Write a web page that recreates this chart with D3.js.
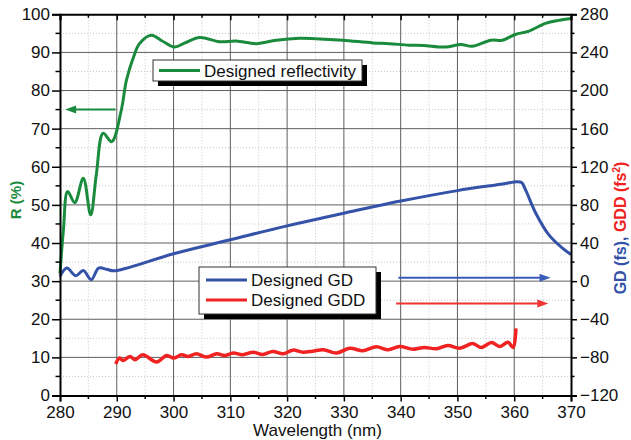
<!DOCTYPE html>
<html>
<head>
<meta charset="utf-8">
<script src="https://cdn.jsdelivr.net/npm/d3@7"></script>
<style>
  html, body { margin: 0; padding: 0; background: #fff; }
  svg { display: block; font-family: 'Liberation Sans', Arial, sans-serif; }
</style>
</head>
<body>
<div id="chart"></div>
<script>
// Reflectivity (left axis, %)
const reflWl = [280, 280.6, 281.35, 282.6, 284.1, 285.4, 286.4, 287.6, 289.1, 290.8, 291.7, 293, 294, 296.1, 298, 300.2, 302, 304.6, 308.1, 311, 314.6, 318.1, 322.2, 325, 329.8, 335.1, 338, 341.5, 344, 347.9, 350.6, 352.6, 355.9, 357.9, 360.2, 362.6, 365.5, 367.8, 370]
const reflR = [32, 43.4, 53.5, 50.6, 57, 47.4, 58, 68.8, 66.6, 74.9, 82.7, 89, 92.3, 94.5, 93, 91.4, 92.5, 93.9, 92.8, 93, 92.3, 93.2, 93.7, 93.6, 93.2, 92.5, 92.3, 91.9, 91.8, 91.4, 92.1, 91.6, 93.2, 93.2, 94.7, 95.6, 97.6, 98.4, 98.9]

// Group delay (right axis, fs)
const gdWl = [280, 281.2, 282.8, 284.1, 285.5, 286.8, 288.2, 289.4, 291.5, 300, 310, 320, 330, 340, 350, 358, 360.5, 361.3, 362, 363.8, 366.1, 368.5, 370]
const gdVal = [5, 13.7, 5.6, 11.2, 1.5, 13.7, 12.5, 10.8, 13.2, 28.7, 43.4, 58, 71.3, 84, 95, 102, 104.4, 103.5, 95.7, 71.3, 48.6, 34.7, 28]

// Group delay dispersion (right axis, fs^2)
const gddWl = [289.8, 290.5, 291.1, 292.3, 293.2, 294.6, 297, 298.8, 300, 301.4, 302.6, 304, 305.8, 307.6, 309, 310.5, 312.2, 314, 315.7, 317.5, 319.3, 321, 322.8, 324.5, 326.4, 328.7, 331, 333.4, 335.7, 337.8, 339.8, 342.2, 344.2, 346.3, 348.3, 350.4, 352.7, 354.2, 356, 357.5, 358.9, 359.8, 360.3]
const gddVal = [-86.9, -80.7, -83.4, -79, -82.4, -77.2, -84.8, -78, -80.7, -77.2, -79, -76.2, -79.7, -76.2, -78, -75.5, -77.2, -74.5, -76.9, -73.8, -76.2, -72.4, -74.5, -73.5, -72, -75.5, -70.4, -73, -68.9, -72, -68.6, -71.4, -69.6, -71, -67.6, -70.4, -65.5, -69.6, -64.5, -68.6, -64.1, -69.6, -49.6]

// Axis ticks
const xTicks = [280, 290, 300, 310, 320, 330, 340, 350, 360, 370]
const leftTicks = [0, 10, 20, 30, 40, 50, 60, 70, 80, 90, 100]
const rightTicks = [-120, -80, -40, 0, 40, 80, 120, 160, 200, 240, 280]

const W = 631
const H = 440
const plot = { left: 60, right: 571, top: 14.3, bottom: 395.5 }

const colGreen = '#1a8b3d'
const colBlue = '#3352a8'
const colRed = '#f02222'

const x = d3.scaleLinear().domain([280, 370]).range([plot.left, plot.right])
const yL = d3.scaleLinear().domain([0, 100]).range([plot.bottom, plot.top])
const yR = d3.scaleLinear().domain([-120, 280]).range([plot.bottom, plot.top])

const svg = d3.select('#chart')
  .append('svg')
  .attr('width', W)
  .attr('height', H)

// Grid: dotted minor lines, then solid major lines
const grid = svg.append('g')
const minorX = d3.range(285, 370, 10)
const minorY = d3.range(5, 100, 10)
grid.selectAll('.gx-minor').data(minorX).join('line')
  .attr('x1', d => x(d)).attr('x2', d => x(d))
  .attr('y1', plot.top).attr('y2', plot.bottom)
  .attr('stroke', '#c8c8c8').attr('stroke-dasharray', '1,2')
grid.selectAll('.gy-minor').data(minorY).join('line')
  .attr('x1', plot.left).attr('x2', plot.right)
  .attr('y1', d => yL(d)).attr('y2', d => yL(d))
  .attr('stroke', '#c8c8c8').attr('stroke-dasharray', '1,2')
grid.selectAll('.gx').data(xTicks.slice(1, -1)).join('line')
  .attr('x1', d => x(d)).attr('x2', d => x(d))
  .attr('y1', plot.top).attr('y2', plot.bottom)
  .attr('stroke', '#5e5e5e').attr('stroke-width', 1)
grid.selectAll('.gy').data(leftTicks.slice(1, -1)).join('line')
  .attr('x1', plot.left).attr('x2', plot.right)
  .attr('y1', d => yL(d)).attr('y2', d => yL(d))
  .attr('stroke', '#5e5e5e').attr('stroke-width', 1)

// Curves
const curve = d3.curveCatmullRom.alpha(0.5)
const reflLine = d3.line().x(d => x(d[0])).y(d => yL(d[1])).curve(curve)
const rightLine = d3.line().x(d => x(d[0])).y(d => yR(d[1])).curve(curve)

svg.append('path')
  .attr('d', reflLine(d3.zip(reflWl, reflR)))
  .attr('fill', 'none').attr('stroke', colGreen).attr('stroke-width', 3)
  .attr('stroke-linejoin', 'round')
svg.append('path')
  .attr('d', rightLine(d3.zip(gdWl, gdVal)))
  .attr('fill', 'none').attr('stroke', colBlue).attr('stroke-width', 3)
  .attr('stroke-linejoin', 'round')
svg.append('path')
  .attr('d', rightLine(d3.zip(gddWl, gddVal)))
  .attr('fill', 'none').attr('stroke', colRed).attr('stroke-width', 3.5)
  .attr('stroke-linejoin', 'round')

// Axes
const fontSize = '17px'
const axBottom = d3.axisBottom(x).tickValues(xTicks).tickSize(6).tickPadding(4)
const axLeft = d3.axisLeft(yL).tickValues(leftTicks).tickSize(8).tickPadding(2)
const axRight = d3.axisRight(yR).tickValues(rightTicks).tickSize(6).tickPadding(3)
const axTop = d3.axisBottom(x).tickValues(xTicks).tickSize(6).tickFormat('')

function styleAxis(g) {
  g.select('.domain').attr('stroke', '#000').attr('stroke-width', 2)
  g.selectAll('.tick line').attr('stroke', '#000').attr('stroke-width', 1.5)
  g.selectAll('.tick text').attr('fill', '#111').style('font-size', fontSize)
}

svg.append('g').attr('transform', `translate(0,${plot.bottom})`).call(axBottom).call(styleAxis)
svg.append('g').attr('transform', `translate(${plot.left},0)`).call(axLeft).call(styleAxis)
svg.append('g').attr('transform', `translate(${plot.right},0)`).call(axRight).call(styleAxis)
svg.append('g').attr('transform', `translate(0,${plot.top})`).call(axTop).call(styleAxis)

// Minor ticks
const minor = svg.append('g').attr('stroke', '#000').attr('stroke-width', 1.5)
minor.selectAll('.mb').data(minorX).join('line')
  .attr('x1', d => x(d)).attr('x2', d => x(d))
  .attr('y1', plot.bottom).attr('y2', plot.bottom + 3.5)
minor.selectAll('.mt').data(minorX).join('line')
  .attr('x1', d => x(d)).attr('x2', d => x(d))
  .attr('y1', plot.top).attr('y2', plot.top + 3.5)
minor.selectAll('.ml').data(minorY).join('line')
  .attr('x1', plot.left - 4.5).attr('x2', plot.left)
  .attr('y1', d => yL(d)).attr('y2', d => yL(d))
minor.selectAll('.mr').data(minorY).join('line')
  .attr('x1', plot.right).attr('x2', plot.right + 3.5)
  .attr('y1', d => yL(d)).attr('y2', d => yL(d))

// Axis titles
svg.append('text')
  .attr('x', (plot.left + plot.right) / 2 + 2)
  .attr('y', 436)
  .attr('text-anchor', 'middle')
  .style('font-size', fontSize)
  .attr('fill', '#111')
  .text('Wavelength (nm)')

svg.append('text')
  .attr('transform', 'translate(21,200) rotate(-90)')
  .attr('text-anchor', 'middle')
  .style('font-size', '15px')
  .style('font-weight', 'bold')
  .attr('fill', colGreen)
  .text('R (%)')

const rTitle = svg.append('text')
  .attr('transform', 'translate(626,228) rotate(-90)')
  .attr('text-anchor', 'middle')
  .style('font-size', '16px')
  .style('font-weight', 'bold')
rTitle.append('tspan').attr('fill', colBlue).text('GD (fs), ')
rTitle.append('tspan').attr('fill', colRed).text('GDD (fs')
rTitle.append('tspan').attr('fill', colRed).attr('dy', -6).style('font-size', '10px').text('2')
rTitle.append('tspan').attr('fill', colRed).attr('dy', 6).text(')')

// Legends with drop shadow
function legendBox(bx, by, bw, bh) {
  svg.append('rect').attr('x', bx + 5).attr('y', by + 5).attr('width', bw).attr('height', bh).attr('fill', '#000')
  svg.append('rect').attr('x', bx).attr('y', by).attr('width', bw).attr('height', bh)
    .attr('fill', '#fff').attr('stroke', '#333').attr('stroke-width', 1)
}

function legendItem(lx, ly, color, label) {
  svg.append('line').attr('x1', lx).attr('x2', lx + 41).attr('y1', ly).attr('y2', ly)
    .attr('stroke', color).attr('stroke-width', 3)
  svg.append('text').attr('x', lx + 45).attr('y', ly + 6)
    .style('font-size', fontSize).attr('fill', '#111').text(label)
}

legendBox(153, 60, 209, 21)
legendItem(159, 70.5, colGreen, 'Designed reflectivity')

legendBox(199, 267, 177, 47)
legendItem(206, 280, colBlue, 'Designed GD')
legendItem(206, 300, colRed, 'Designed GDD')

// Arrows pointing to the matching axis
function arrow(x1, x2, yy, color) {
  const dir = x2 > x1 ? 1 : -1
  svg.append('line').attr('x1', x1).attr('x2', x2 - dir * 8).attr('y1', yy).attr('y2', yy)
    .attr('stroke', color).attr('stroke-width', 2)
  svg.append('path')
    .attr('d', `M${x2},${yy} L${x2 - dir * 11},${yy - 4} L${x2 - dir * 11},${yy + 4} Z`)
    .attr('fill', color)
}

arrow(x(289.8), x(280.9), yL(75), colGreen)
arrow(x(339.6), x(366.4), yR(3.5), '#3a5cb8')
arrow(x(339.2), x(366), yR(-23.5), '#f03333')
</script>
</body>
</html>
